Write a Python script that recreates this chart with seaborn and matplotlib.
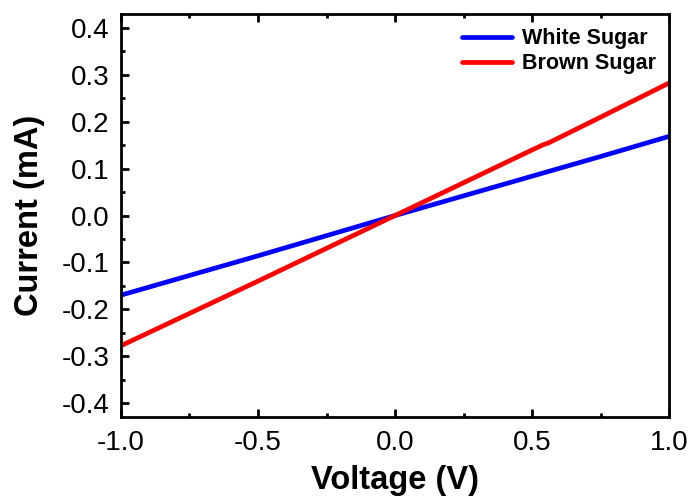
import numpy as np
import pandas as pd
import matplotlib
matplotlib.use("Agg")
import matplotlib.pyplot as plt
import seaborn as sns
from matplotlib.ticker import MultipleLocator

# ── DATA ──────────────────────────────────────────────────────────
voltage_white = [-1.0, -0.75, -0.5, -0.25, 0.0, 0.25, 0.5, 0.75, 1.0]
current_white = [-0.170, -0.128, -0.086, -0.043, 0.000, 0.042, 0.084, 0.126, 0.169]

voltage_brown = [-1.0, -0.75, -0.5, -0.25, 0.0, 0.25, 0.5, 0.54, 0.56, 0.75, 1.0]
current_brown = [-0.278, -0.209, -0.140, -0.070, 0.000, 0.070, 0.140, 0.151, 0.155, 0.210, 0.283]

y_ticks = [-0.4, -0.3, -0.2, -0.1, 0.0, 0.1, 0.2, 0.3, 0.4]
y_tick_labels = ["-0.4", "-0.3", "-0.2", "-0.1", "0.0", "0.1", "0.2", "0.3", "0.4"]
x_ticks = [-1.0, -0.5, 0.0, 0.5, 1.0]
x_tick_labels = ["-1.0", "-0.5", "0.0", "0.5", "1.0"]

series_names = ["White Sugar", "Brown Sugar"]
series_colors = ["#0000ff", "#ff0000"]

# ── PLOT ──────────────────────────────────────────────────────────
sns.set_style("ticks")
plt.rcParams['font.family'] = ['Liberation Sans', 'DejaVu Sans']
plt.rcParams['text.color'] = 'black'
plt.rcParams['axes.labelcolor'] = 'black'
plt.rcParams['xtick.color'] = 'black'
plt.rcParams['ytick.color'] = 'black'

fig = plt.figure(figsize=(6.95, 5.0), dpi=100)
ax = fig.add_axes([0.174, 0.166, 0.789, 0.806])

sns.lineplot(x=voltage_white, y=current_white, color=series_colors[0],
             lw=3.4, label=series_names[0], ax=ax)
sns.lineplot(x=voltage_brown, y=current_brown, color=series_colors[1],
             lw=3.4, label=series_names[1], ax=ax)

ax.set_xlim(-1.0, 1.0)
ax.set_ylim(-0.43, 0.43)
ax.set_xticks(x_ticks)
ax.set_xticklabels(x_tick_labels)
ax.set_yticks(y_ticks)
ax.set_yticklabels(y_tick_labels)
ax.xaxis.set_minor_locator(MultipleLocator(0.25))
ax.yaxis.set_minor_locator(MultipleLocator(0.05))

for side in ['top', 'right', 'bottom', 'left']:
    ax.spines[side].set_visible(True)
    ax.spines[side].set_linewidth(2.0)
    ax.spines[side].set_color('black')

ax.tick_params(which='both', direction='in', width=2, top=True, right=False,
               labelsize=20)
ax.tick_params(axis='x', pad=9)
ax.tick_params(axis='y', pad=8)
ax.tick_params(which='major', length=6)
ax.tick_params(which='minor', length=3)

ax.set_xlabel('Voltage (V)', fontsize=23.5, fontweight='bold', labelpad=7)
ax.set_ylabel('Current (mA)', fontsize=23.5, fontweight='bold', labelpad=12)

leg = ax.legend(loc='upper right', bbox_to_anchor=(1.0, 0.997), frameon=False,
                fontsize=15.5, handlelength=2.3, handletextpad=0.5,
                borderaxespad=0.2, labelspacing=0.2)
for t in leg.get_texts():
    t.set_fontweight('bold')

plt.savefig('out.png', dpi=100)
